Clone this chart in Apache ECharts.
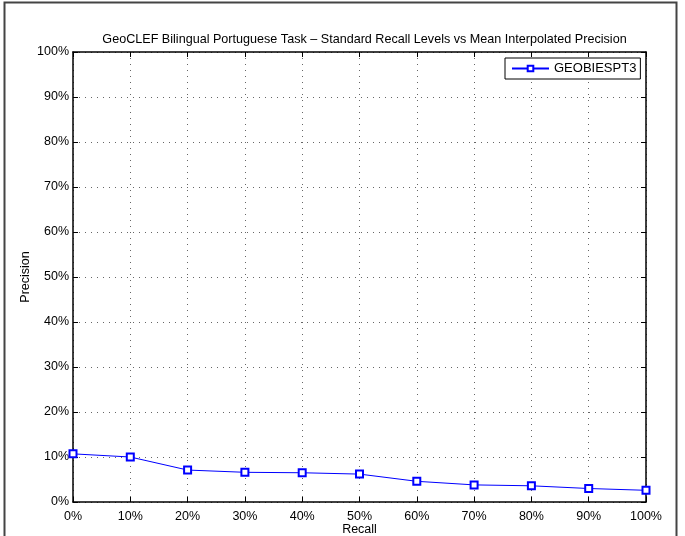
<!DOCTYPE html>
<html><head><meta charset="utf-8">
<script src="https://cdn.jsdelivr.net/npm/echarts@6/dist/echarts.min.js"></script>
<style>html,body{margin:0;padding:0;background:#fff}#c{width:685px;height:536px}</style>
</head><body><div id="c"></div>
<script>
const recallLevels = [0, 10, 20, 30, 40, 50, 60, 70, 80, 90, 100];
const precisionGEOBIESPT3 = [10.7, 10.0, 7.1, 6.6, 6.5, 6.2, 4.6, 3.8, 3.6, 3.0, 2.6];
const seriesName = 'GEOBIESPT3';
const titleText = 'GeoCLEF Bilingual Portuguese Task \u2013 Standard Recall Levels vs Mean Interpolated Precision';
const xAxisName = 'Recall';
const yAxisName = 'Precision';

const FONT = 'Liberation Sans, Arial, sans-serif';
const chart = echarts.init(document.getElementById('c'), null, {renderer: 'canvas'});
const dotted = {show: true, lineStyle: {color: '#666', width: 1, type: [1, 5]}};
const axLine = {show: true, onZero: false, lineStyle: {color: '#000', width: 1.5}};
const axTick = {show: true, inside: true, length: 5, lineStyle: {color: '#000', width: 1}};
chart.setOption({
  animation: false,
  backgroundColor: '#fff',
  textStyle: {fontFamily: FONT},
  title: {
    text: titleText, left: 359.5, textAlign: 'center', top: 28,
    textStyle: {fontSize: 12.6, fontWeight: 'normal', color: '#000', fontFamily: FONT}
  },
  graphic: [{
    type: 'rect', shape: {x: 4.5, y: 2.5, width: 672, height: 545},
    style: {fill: 'none', stroke: '#444', lineWidth: 2}, silent: true, z: 100
  }],
  legend: {
    data: [seriesName], left: 505, top: 58,
    orient: 'vertical',
    backgroundColor: '#fff', borderColor: '#000', borderWidth: 1,
    padding: [4, 4, 4, 6], itemWidth: 37, itemHeight: 7, itemGap: 5,
    textStyle: {fontSize: 13, color: '#000', fontFamily: FONT}
  },
  grid: {left: 73, top: 52, right: 39, bottom: 34, containLabel: false, outerBoundsMode: 'none'},
  xAxis: [{
    type: 'value', min: 0, max: 100, interval: 10,
    name: xAxisName, nameLocation: 'middle', nameGap: 21, nameMoveOverlap: false,
    nameTextStyle: {fontSize: 12.5, color: '#000'},
    axisLine: axLine, axisTick: axTick,
    axisLabel: {formatter: '{value}%', fontSize: 12.5, color: '#000', margin: 8},
    splitLine: dotted
  }, {
    type: 'value', min: 0, max: 100, interval: 10, position: 'top',
    axisLine: axLine, axisTick: axTick,
    axisLabel: {show: false}, splitLine: {show: false}
  }],
  yAxis: [{
    type: 'value', min: 0, max: 100, interval: 10,
    name: yAxisName, nameLocation: 'middle', nameGap: 41, nameMoveOverlap: false,
    nameTextStyle: {fontSize: 12.5, color: '#000'},
    axisLine: axLine, axisTick: axTick,
    axisLabel: {formatter: '{value}%', fontSize: 12.5, color: '#000', margin: 4, padding: [5, 0, 0, 0]},
    splitLine: dotted
  }, {
    type: 'value', min: 0, max: 100, interval: 10, position: 'right',
    axisLine: axLine, axisTick: axTick,
    axisLabel: {show: false}, splitLine: {show: false}
  }],
  series: [{
    name: seriesName, type: 'line',
    data: recallLevels.map((r, i) => [r, precisionGEOBIESPT3[i]]),
    symbol: 'emptyRect', symbolSize: 7,
    color: '#0000ff',
    lineStyle: {color: '#0000ff', width: 1},
    itemStyle: {color: '#0000ff', borderColor: '#0000ff', borderWidth: 1},
    clip: false, z: 10
  }]
});
</script></body></html>
